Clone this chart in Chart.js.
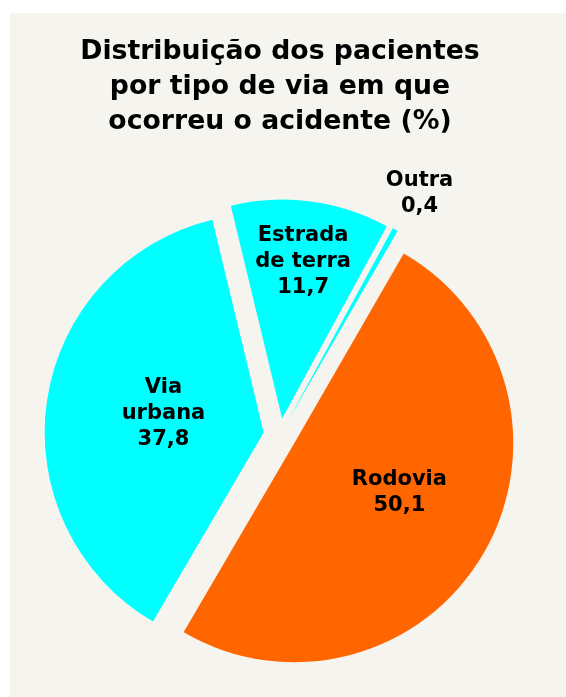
<!DOCTYPE html>
<html>
<head>
<meta charset="utf-8">
<script src="https://cdn.jsdelivr.net/npm/chart.js@4.4.0/dist/chart.umd.min.js"></script>
<style>
  html, body { margin: 0; padding: 0; background: #ffffff; overflow: hidden; }
  canvas { display: block; }
</style>
</head>
<body>
<canvas id="canvas" width="566" height="697"></canvas>
<script>
// Chart data
var categories = ['Rodovia', 'Via urbana', 'Estrada de terra', 'Outra'];
var values = [50.1, 37.8, 11.7, 0.4];
var labelLines = [['Rodovia'], ['Via', 'urbana'], ['Estrada', 'de terra'], ['Outra']];
var titleLines = ['Distribuição dos pacientes', 'por tipo de via em que', 'ocorreu o acidente (%)'];

// Slice colours and label placement (fraction of radius, angle shift in degrees)
var sliceColors = ['#FF6600', '#00FFFF', '#00FFFF', '#00FFFF'];
var labelPlace = [[0.606, -4.3], [0.541, 2.0], [0.797, 0.1], [1.275, 0.7]];
var explode = 16.5;  // px each slice is pulled out from the centre

// Paint the white margin and the beige panel behind the chart
var backgroundPlugin = {
    id: 'panel',
    beforeDraw: function (chart) {
        var c = chart.ctx;
        c.save();
        c.fillStyle = '#ffffff';
        c.fillRect(0, 0, chart.width, chart.height);
        c.fillStyle = '#F5F4EF';
        c.fillRect(10, 13, chart.width - 10, chart.height - 13);
        c.restore();
    }
};

// Pull every slice out along its middle angle without growing its radius
// (the built-in "offset" option also enlarges the bigger slices)
var explodePlugin = {
    id: 'explode',
    beforeDatasetsDraw: function (chart) {
        chart.getDatasetMeta(0).data.forEach(function (arc) {
            if (arc.$exploded) return;
            var baseDraw = arc.draw;
            arc.draw = function (c, area) {
                var mid = (this.startAngle + this.endAngle) / 2;
                c.save();
                c.translate(Math.cos(mid) * explode, Math.sin(mid) * explode);
                baseDraw.call(this, c, area);
                c.restore();
            };
            arc.$exploded = true;
        });
    }
};

// Write the category name and value on (or next to) each slice
var sliceLabels = {
    id: 'sliceLabels',
    afterDatasetsDraw: function (chart) {
        var c = chart.ctx;
        var meta = chart.getDatasetMeta(0);
        c.save();
        c.fillStyle = '#000000';
        c.font = 'bold 21px "DejaVu Sans"';
        c.textAlign = 'center';
        c.textBaseline = 'middle';
        meta.data.forEach(function (arc, i) {
            var p = arc.getProps(['x', 'y', 'startAngle', 'endAngle', 'outerRadius'], true);
            var mid = (p.startAngle + p.endAngle) / 2 + labelPlace[i][1] * Math.PI / 180;
            var r = p.outerRadius * labelPlace[i][0];
            var cx = p.x + Math.cos(mid) * r;
            var cy = p.y + Math.sin(mid) * r;
            var lines = labelLines[i].concat([String(values[i]).replace('.', ',')]);
            var lh = 26;
            lines.forEach(function (t, k) {
                c.fillText(t, cx, cy + (k - (lines.length - 1) / 2) * lh);
            });
        });
        c.restore();
    }
};

var ctx = document.getElementById('canvas').getContext('2d');
var pieChart = new Chart(ctx, {
    type: 'pie',
    data: {
        labels: categories,
        datasets: [{
            data: values,
            backgroundColor: sliceColors,
            borderWidth: 0,
            offset: 0,
            hoverOffset: 0,
            rotation: 30,
            radius: 219
        }]
    },
    options: {
        responsive: false,
        animation: false,
        events: [],
        layout: {
            padding: { top: 35, bottom: 0, left: 0, right: 6 }
        },
        plugins: {
            legend: { display: false },
            tooltip: { enabled: false },
            title: {
                display: true,
                text: titleLines,
                color: '#000000',
                padding: { top: 0, bottom: 33 },
                font: { family: '"DejaVu Sans"', size: 26.7, weight: 'bold', lineHeight: 1.31 }
            }
        }
    },
    plugins: [backgroundPlugin, explodePlugin, sliceLabels]
});
</script>
</body>
</html>
